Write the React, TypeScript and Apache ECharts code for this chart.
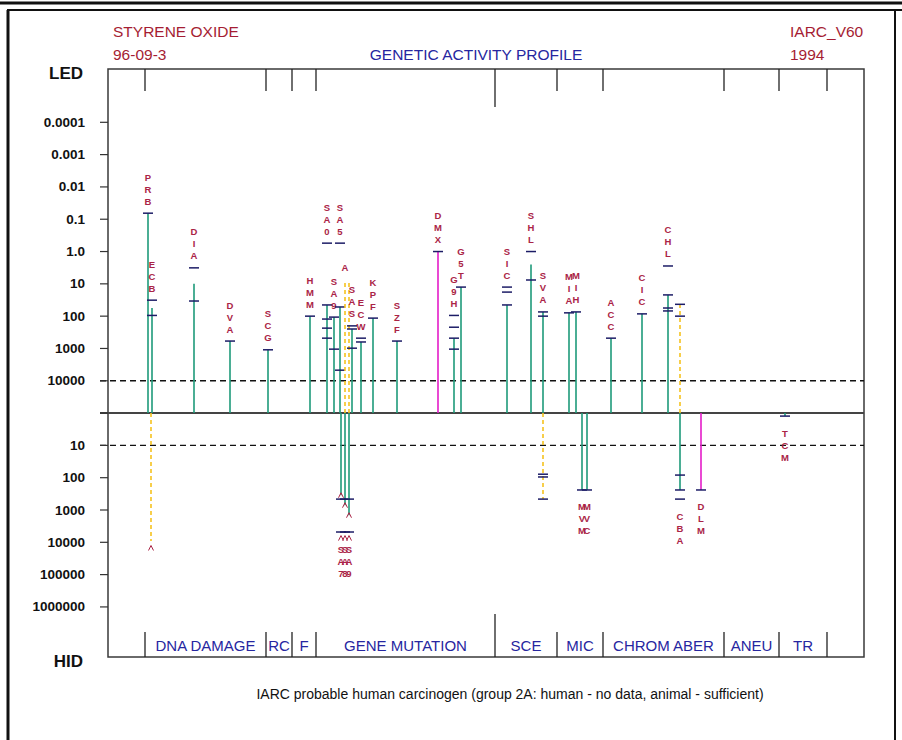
import React, { useEffect, useRef } from "react";
import * as echarts from "echarts";

// ---------- texts ----------
const COMPOUND = "STYRENE OXIDE";
const CAS_NO = "96-09-3";
const TITLE = "GENETIC ACTIVITY PROFILE";
const SOURCE = "IARC_V60";
const YEAR = "1994";
const FOOTER = "IARC probable human carcinogen (group 2A: human - no data, animal - sufficient)";

// ---------- axis tick labels ----------
const ledTickLabels = ["0.0001", "0.001", "0.01", "0.1", "1.0", "10", "100", "1000", "10000"];
const hidTickLabels = ["10", "100", "1000", "10000", "100000", "1000000"];

// ---------- test groups (column positions of the separators) ----------
const groupNames = ["DNA DAMAGE", "RC", "F", "GENE MUTATION", "SCE", "MIC", "CHROM ABER", "ANEU", "TR"];
const groupEdges = [37, 158, 184, 208, 387, 449, 495, 616, 671, 719];
const longEdge = 387;

// ---------- LED (positive results, upward) ----------
const ledCodes = ["PRB", "ECB", "DIA", "DVA", "SCG", "HMM", "SA0", "SA9", "SA5", "A", "", "SAS", "ECW", "KPF", "SZF", "DMX", "G9H", "G5T", "SIC", "SHL", "SVA", "MIA", "MIH", "ACC", "CIC", "CHL", ""];
const ledPos = [40, 44, 86, 122, 160, 202, 219, 226, 232, 237, 241, 244, 253, 265, 289, 330, 346, 353, 399, 423, 435, 461, 468, 503, 534, 560, 572];
const ledKind = ["g", "g", "g", "g", "g", "g", "g", "g", "g", "y", "y", "g", "g", "g", "g", "m", "g", "g", "g", "g", "g", "g", "g", "g", "g", "g", "y"];
const ledEnd = [0.065, 56, 10, 590, 1100, 100, 45, 107, 52, 7.6, 7.6, 250, 630, 115, 590, 1.0, 480, 12.6, 45, 2.5, 74, 79, 74, 480, 85, 22, 43];
const ledDoses = [
  [0.065], [32, 95], [3.2, 34], [590], [1100], [100],
  [0.55, 45, 123, 235, 480], [107, 1050], [0.55, 52, 4700], [], [],
  [200, 250, 980], [480, 630], [115], [590], [1.0],
  [95, 220, 480, 1050], [12.6], [12.6, 18, 45], [1.0, 7.6], [74, 100],
  [79], [74], [480], [85], [2.8, 22, 56, 69], [43, 100],
];

// ---------- HID (negative results, downward) ----------
const hidCodes = ["", "SA7", "SA8", "SA9", "", "MVM", "MVC", "CBA", "DLM", "TCM"];
const hidPos = [43, 233, 237, 241, 435, 474, 479, 572, 593, 677];
const hidKind = ["y", "g", "g", "g", "y", "g", "g", "g", "m", "g"];
const hidEnd = [9100, 350, 710, 1450, 460, 240, 240, 240, 240, 1.24];
const hidDoses = [[], [460, 4800], [460, 4800], [460, 4800], [78, 95, 460], [240], [240], [83, 240, 460], [240], [1.24]];
const hidCarets = [[15000], [350, 7400], [710, 7400], [1450, 7400], [], [], [], [], [], []];

// ---------- styling ----------
const FONT = "'Liberation Sans', Arial, Helvetica, sans-serif";
const Y_MIN = -7.55;
const Y_MAX = 10.65;
const X_MAX = 756;
const COLORS: Record<string, string> = { g: "#1e9a7a", m: "#e41cc8", y: "#f5c21e" };
const TICK_COLOR = "#1c1c66";
const LABEL_COLOR = "#aa2446";
const RED = "#a51d33";
const BLUE = "#2626a0";

const vUp = (d: number) => 5 - Math.log10(d);
const vDown = (d: number) => -Math.log10(d);

function txt(x: number, y: number, text: string, font: string, fill: string, align = "center") {
  return {
    type: "text",
    silent: true,
    style: { x, y, text, font, fill, align, verticalAlign: "middle", textAlign: align, textVerticalAlign: "middle" },
  };
}

function makeTestRenderer(
  dir: number,
  codes: string[],
  pos: number[],
  kind: string[],
  ends: number[],
  doses: number[][],
  carets: number[][] | null
) {
  const conv = dir > 0 ? vUp : vDown;
  return (params: any, api: any) => {
    const i = params.dataIndex;
    const [x, y0] = api.coord([pos[i], 0]);
    const yEnd = api.coord([pos[i], conv(ends[i])])[1];
    const color = COLORS[kind[i]];
    const ch: any[] = [];
    ch.push({
      type: "line",
      shape: { x1: x, y1: y0, x2: x, y2: yEnd },
      style: { stroke: color, lineWidth: 1.6, lineDash: kind[i] === "y" ? [4, 3] : null },
    });
    for (const d of doses[i]) {
      const ty = api.coord([pos[i], conv(d)])[1];
      ch.push({
        type: "line",
        shape: { x1: x - 5, y1: ty, x2: x + 5, y2: ty },
        style: { stroke: TICK_COLOR, lineWidth: 1.5 },
      });
    }
    if (carets) {
      for (const d of carets[i]) {
        const cy = api.coord([pos[i], conv(d)])[1];
        ch.push({
          type: "polyline",
          shape: { points: [[x - 2.5, cy + 2.5], [x, cy - 2.5], [x + 2.5, cy + 2.5]] },
          style: { stroke: LABEL_COLOR, lineWidth: 1, fill: null },
        });
      }
    }
    const all = doses[i].concat([ends[i]]);
    const anchor = dir > 0 ? Math.min(...all) : Math.max(...all);
    const ay = api.coord([pos[i], conv(anchor)])[1];
    const letters = codes[i].split("");
    letters.forEach((L, k) => {
      const cy = dir > 0 ? ay - 12 - 12 * (letters.length - 1 - k) : ay + 17 + 12 * k;
      ch.push(txt(x, cy, L, `bold 9.5px ${FONT}`, LABEL_COLOR));
    });
    return { type: "group", children: ch };
  };
}

function buildOption(): any {
  const axisTicks = [
    ...ledTickLabels.map((l) => ({ v: vUp(Number(l)), l })),
    { v: 0, l: "" },
    ...hidTickLabels.map((l) => ({ v: vDown(Number(l)), l })),
  ];
  const refLines = [
    { v: 0, dash: false },
    { v: vUp(10000), dash: true },
    { v: vDown(10), dash: true },
  ];

  return {
    animation: false,
    backgroundColor: "#ffffff",
    grid: {
      left: 108,
      top: 69,
      width: 756,
      height: 588,
      show: true,
      borderColor: "#3a3a3a",
      borderWidth: 1.5,
      backgroundColor: "transparent",
    },
    xAxis: { type: "value", min: 0, max: X_MAX, show: false },
    yAxis: { type: "value", min: Y_MIN, max: Y_MAX, show: false },
    series: [
      {
        type: "custom",
        name: "refLines",
        clip: false,
        silent: true,
        data: refLines.map((r) => [0, r.v]),
        renderItem: (params: any, api: any) => {
          const r = refLines[params.dataIndex];
          const [xa, y] = api.coord([0, r.v]);
          const xb = api.coord([X_MAX, r.v])[0];
          return {
            type: "line",
            shape: { x1: xa - 8, y1: y, x2: xb, y2: y },
            style: r.dash
              ? { stroke: "#111", lineWidth: 1.3, lineDash: [6, 4] }
              : { stroke: "#444", lineWidth: 2 },
          };
        },
      },
      {
        type: "custom",
        name: "axisTicks",
        clip: false,
        silent: true,
        data: axisTicks.map((t) => [0, t.v]),
        renderItem: (params: any, api: any) => {
          const t = axisTicks[params.dataIndex];
          const [x, y] = api.coord([0, t.v]);
          return {
            type: "group",
            children: [
              { type: "line", shape: { x1: x - 8, y1: y, x2: x, y2: y }, style: { stroke: "#333", lineWidth: 1.2 } },
              txt(x - 23, y, t.l, `bold 13.5px ${FONT}`, "#111", "right"),
            ],
          };
        },
      },
      {
        type: "custom",
        name: "groups",
        clip: false,
        silent: true,
        data: groupEdges.map((e) => [e, 0]),
        renderItem: (params: any, api: any) => {
          const i = params.dataIndex;
          const e = groupEdges[i];
          const [x, yTop] = api.coord([e, Y_MAX]);
          const yBot = api.coord([e, Y_MIN])[1];
          const isLong = e === longEdge;
          const ch: any[] = [
            { type: "line", shape: { x1: x, y1: yTop, x2: x, y2: yTop + (isLong ? 38 : 22) }, style: { stroke: "#222", lineWidth: 1.3 } },
            { type: "line", shape: { x1: x, y1: yBot - (isLong ? 43 : 25), x2: x, y2: yBot }, style: { stroke: "#222", lineWidth: 1.3 } },
          ];
          if (i < groupNames.length) {
            const xm = api.coord([(e + groupEdges[i + 1]) / 2, Y_MIN])[0];
            ch.push(txt(xm, yBot - 12, groupNames[i], `15px ${FONT}`, BLUE));
          }
          return { type: "group", children: ch };
        },
      },
      {
        type: "custom",
        name: "LED",
        clip: false,
        silent: true,
        data: ledPos.map((p, i) => [p, vUp(ledEnd[i])]),
        renderItem: makeTestRenderer(1, ledCodes, ledPos, ledKind, ledEnd, ledDoses, null),
      },
      {
        type: "custom",
        name: "HID",
        clip: false,
        silent: true,
        data: hidPos.map((p, i) => [p, vDown(hidEnd[i])]),
        renderItem: makeTestRenderer(-1, hidCodes, hidPos, hidKind, hidEnd, hidDoses, hidCarets),
      },
    ],
    graphic: [
      { type: "line", shape: { x1: 0, y1: 3, x2: 902, y2: 3 }, style: { stroke: "#111", lineWidth: 3 } },
      { type: "line", shape: { x1: 7, y1: 10, x2: 902, y2: 10 }, style: { stroke: "#111", lineWidth: 2 } },
      { type: "line", shape: { x1: 8, y1: 10, x2: 8, y2: 740 }, style: { stroke: "#111", lineWidth: 3 } },
      { type: "line", shape: { x1: 895, y1: 10, x2: 895, y2: 740 }, style: { stroke: "#111", lineWidth: 2 } },
      { type: "text", x: 113, y: 31, style: { text: COMPOUND, fill: RED, font: `15.5px ${FONT}`, textAlign: "left", textVerticalAlign: "middle", align: "left", verticalAlign: "middle" } },
      { type: "text", x: 113, y: 54, style: { text: CAS_NO, fill: RED, font: `15.5px ${FONT}`, textAlign: "left", textVerticalAlign: "middle", align: "left", verticalAlign: "middle" } },
      { type: "text", x: 476, y: 54, style: { text: TITLE, fill: BLUE, font: `15.5px ${FONT}`, textAlign: "center", textVerticalAlign: "middle", align: "center", verticalAlign: "middle" } },
      { type: "text", x: 790, y: 31, style: { text: SOURCE, fill: RED, font: `15.5px ${FONT}`, textAlign: "left", textVerticalAlign: "middle", align: "left", verticalAlign: "middle" } },
      { type: "text", x: 790, y: 54, style: { text: YEAR, fill: RED, font: `15.5px ${FONT}`, textAlign: "left", textVerticalAlign: "middle", align: "left", verticalAlign: "middle" } },
      { type: "text", x: 83, y: 73, style: { text: "LED", fill: "#111", font: `bold 17px ${FONT}`, textAlign: "right", textVerticalAlign: "middle", align: "right", verticalAlign: "middle" } },
      { type: "text", x: 83, y: 661, style: { text: "HID", fill: "#111", font: `bold 17px ${FONT}`, textAlign: "right", textVerticalAlign: "middle", align: "right", verticalAlign: "middle" } },
      { type: "text", x: 510, y: 694, style: { text: FOOTER, fill: "#111", font: `14px ${FONT}`, textAlign: "center", textVerticalAlign: "middle", align: "center", verticalAlign: "middle" } },
    ],
  };
}

export default function App() {
  const ref = useRef<HTMLDivElement>(null);
  useEffect(() => {
    document.body.style.margin = "0";
    const chart = echarts.init(ref.current as HTMLDivElement, null, { renderer: "svg" });
    chart.setOption(buildOption());
    return () => chart.dispose();
  }, []);
  return <div ref={ref} style={{ width: 902, height: 740, background: "#fff" }} />;
}
